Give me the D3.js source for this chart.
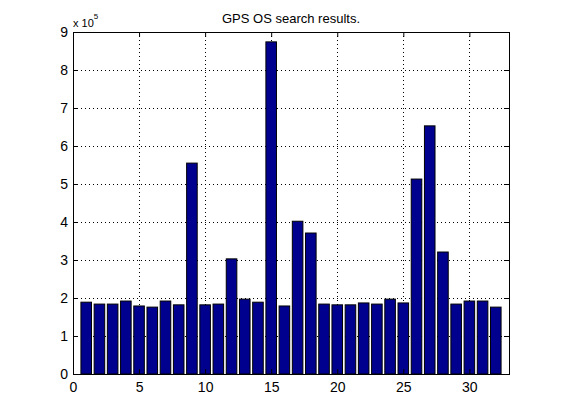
<!DOCTYPE html>
<html>
<head>
<meta charset="utf-8">
<script src="https://cdn.jsdelivr.net/npm/d3@7"></script>
<style>
  body { margin: 0; background: #fff; }
  svg text { font-family: "Liberation Sans", Arial, sans-serif; font-size: 11px; fill: #000; }
</style>
</head>
<body>
<div id="chart"></div>
<script>
// datos (valores en unidades de 10^5)
let positions = d3.range(1, 33);
let searches = [1.89, 1.84, 1.84, 1.92, 1.79, 1.76, 1.92, 1.82, 5.55, 1.82,
                1.84, 3.03, 1.97, 1.89, 8.74, 1.79, 4.02, 3.71, 1.84, 1.82,
                1.82, 1.87, 1.84, 1.97, 1.87, 5.13, 6.53, 3.21, 1.84, 1.92,
                1.92, 1.76];
let xTicks = [0, 5, 10, 15, 20, 25, 30];
let yTicks = [0, 1, 2, 3, 4, 5, 6, 7, 8, 9];

let margin = {top: 32, right: 52, bottom: 46, left: 73};
let width = 561 - margin.left - margin.right,
    height = 420 - margin.top - margin.bottom;

let svg = d3.select('#chart').append('svg')
    .attr('width', 561)
    .attr('height', 420);

let chart = svg.append('g')
    .attr('transform', 'translate(' + margin.left + ',' + margin.top + ')');

let x = d3.scaleLinear().domain([0, 33]).range([0, width]);
let y = d3.scaleLinear().domain([0, 9]).range([height, 0]);

//Rejilla punteada
chart.append('g').selectAll('line')
    .data(xTicks.slice(1))
    .enter().append('line')
    .attr('x1', d => Math.round(x(d)) + 0.5).attr('x2', d => Math.round(x(d)) + 0.5)
    .attr('y1', 0).attr('y2', height)
    .attr('stroke', '#000').attr('stroke-dasharray', '1,3');

chart.append('g').selectAll('line')
    .data(yTicks.slice(1, -1))
    .enter().append('line')
    .attr('y1', d => Math.round(y(d)) + 0.5).attr('y2', d => Math.round(y(d)) + 0.5)
    .attr('x1', 0).attr('x2', width)
    .attr('stroke', '#000').attr('stroke-dasharray', '1,3');

//Barras
let bw = x(0.8) - x(0);
chart.selectAll('.bar')
    .data(searches)
    .enter().append('rect')
    .attr('class', 'bar')
    .attr('x', (d, i) => x(positions[i]) - bw / 2)
    .attr('y', d => y(d))
    .attr('width', bw)
    .attr('height', d => y(0) - y(d))
    .attr('fill', '#00008f')
    .attr('stroke', '#000')
    .attr('stroke-width', 1);

//Ejes con marcas hacia dentro
chart.append('g')
    .attr('transform', 'translate(0,' + height + ')')
    .call(d3.axisBottom(x).tickValues(xTicks).tickSize(-5).tickPadding(8))
    .call(g => g.select('.domain').remove());
chart.append('g')
    .call(d3.axisTop(x).tickValues(xTicks).tickSize(-5).tickFormat(''))
    .call(g => g.select('.domain').remove());
chart.append('g')
    .call(d3.axisLeft(y).tickValues(yTicks).tickSize(-5).tickPadding(5))
    .call(g => g.select('.domain').remove());
chart.append('g')
    .attr('transform', 'translate(' + width + ',0)')
    .call(d3.axisRight(y).tickValues(yTicks).tickSize(-5).tickFormat(''))
    .call(g => g.select('.domain').remove());

chart.selectAll('.tick text')
    .style('font-family', '"Liberation Sans Narrow", "Liberation Sans", Arial, sans-serif')
    .style('font-size', '14px');
chart.selectAll('.tick line').attr('stroke', '#000');

chart.append('rect')
    .attr('x', 0.5).attr('y', 0.5)
    .attr('width', width).attr('height', height)
    .attr('fill', 'none').attr('stroke', '#000');

//Título y exponente
svg.append('text')
    .attr('x', margin.left + width / 2)
    .attr('y', 23)
    .attr('text-anchor', 'middle')
    .style('font-size', '13px')
    .text('GPS OS search results.');

let ex = svg.append('text')
    .attr('x', margin.left)
    .attr('y', 27)
    .style('font-size', '11px');
ex.append('tspan').text('x 10');
ex.append('tspan').attr('dy', -8).style('font-size', '8px').text('5');
</script>
</body>
</html>
